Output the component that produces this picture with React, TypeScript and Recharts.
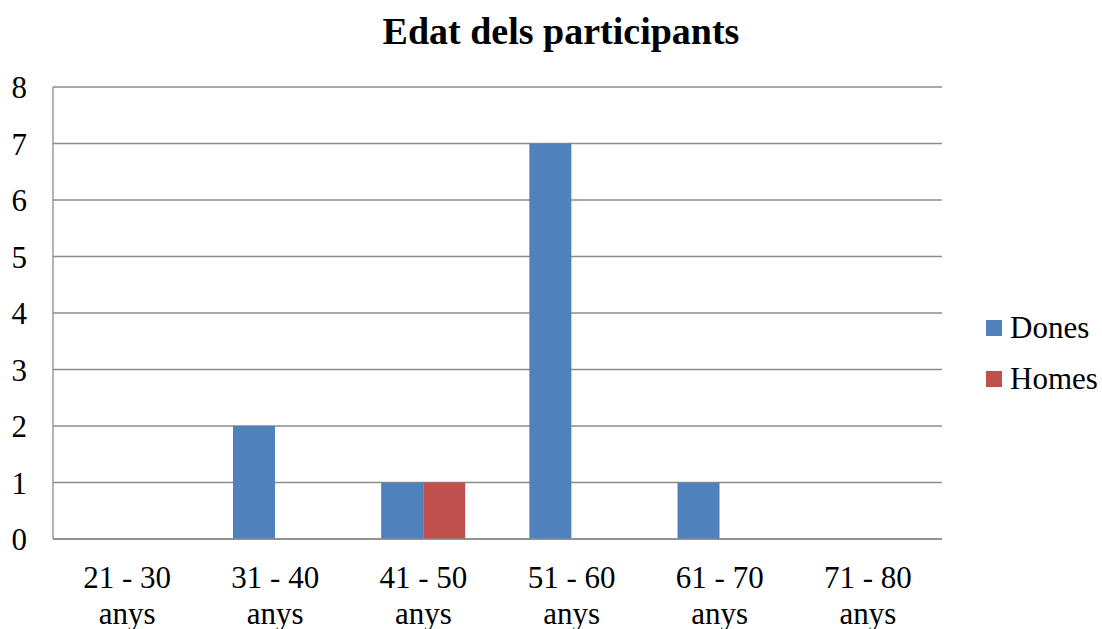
import { Bar, BarChart, CartesianGrid, XAxis, YAxis } from "recharts";

const categories = ["21 - 30 anys", "31 - 40 anys", "41 - 50 anys", "51 - 60 anys", "61 - 70 anys", "71 - 80 anys"];
const dones = [0, 2, 1, 7, 1, 0];
const homes = [0, 0, 1, 0, 0, 0];
const yTicks = [0, 1, 2, 3, 4, 5, 6, 7, 8];

const series = [
  { key: "dones", name: "Dones", color: "#4F81BD" },
  { key: "homes", name: "Homes", color: "#C0504D" },
];

const data = categories.map((label, i) => ({ label, dones: dones[i], homes: homes[i] }));

const FONT = '"Liberation Serif", "Times New Roman", serif';

// biome-ignore lint/suspicious/noExplicitAny: recharts tick props are runtime-shaped.
function CategoryTick({ x, y, payload }: any) {
  const parts = String(payload.value).split(" anys");
  return (
    <text x={x} y={y} textAnchor="middle" fill="#000" fontFamily={FONT} fontSize={31}>
      <tspan x={x} dy={41}>{parts[0]}</tspan>
      <tspan x={x} dy={36}>anys</tspan>
    </text>
  );
}

export default function App() {
  return (
    <div style={{ position: "fixed", left: 0, top: 0, width: 1102, height: 629, background: "#fff" }}>
      <div
        style={{
          position: "absolute",
          top: 9,
          left: 0,
          width: 1122,
          textAlign: "center",
          fontFamily: FONT,
          fontSize: 38,
          fontWeight: "bold",
          color: "#000",
          lineHeight: "44px",
        }}
      >
        Edat dels participants
      </div>
      <BarChart
        width={1102}
        height={629}
        data={data}
        margin={{ top: 87, right: 160, left: 13, bottom: 0 }}
        barCategoryGap="21.5%"
        barGap={0}
      >
        <CartesianGrid vertical={false} stroke="#8c8c8c" strokeWidth={1.3} />
        <XAxis
          dataKey="label"
          axisLine={{ stroke: "#8c8c8c", strokeWidth: 1.3 }}
          tickLine={false}
          tick={<CategoryTick />}
          interval={0}
          height={90}
        />
        <YAxis
          domain={[0, 8]}
          ticks={yTicks}
          width={40}
          axisLine={{ stroke: "#8c8c8c", strokeWidth: 1.3 }}
          tickLine={false}
          tickSize={0}
          tickMargin={26}
          tick={{ fontSize: 31, fill: "#000", fontFamily: FONT }}
        />
        {series.map((s) => (
          <Bar key={s.key} dataKey={s.key} name={s.name} fill={s.color} isAnimationActive={false} />
        ))}
      </BarChart>
      <div style={{ position: "absolute", left: 986, top: 302, fontFamily: FONT, fontSize: 31, color: "#000" }}>
        {series.map((s) => (
          <div key={s.key} style={{ display: "flex", alignItems: "center", height: 51 }}>
            <span style={{ width: 16, height: 16, background: s.color, marginRight: 8 }} />
            <span>{s.name}</span>
          </div>
        ))}
      </div>
    </div>
  );
}
